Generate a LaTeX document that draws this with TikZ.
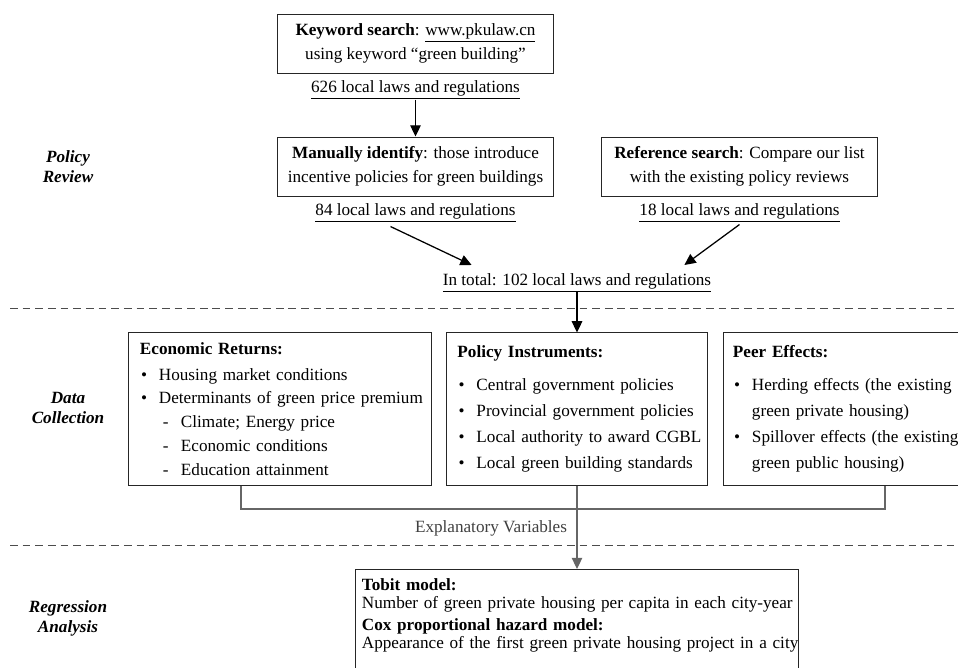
\documentclass[tikz,border=0pt]{standalone}
\usepackage{fontspec}
\setmainfont{Liberation Serif}
\usetikzlibrary{positioning}
\usetikzlibrary{calc}
\usetikzlibrary{arrows.meta}

\newcommand{\itm}[1]{\mbox{\makebox[0.475cm][l]{\hspace{0.03cm}\textbullet}#1}}
\newcommand{\subitm}[1]{\mbox{\hspace*{0.575cm}\makebox[0.45cm][l]{-}#1}}
\newcommand{\cont}[1]{\mbox{\hspace*{0.475cm}#1}}

\tikzset{
  box/.style={draw=black!85, line width=0.7pt},
  srcbox/.style={box, minimum width=6.875cm, minimum height=1.475cm, align=center},
  count/.style={inner sep=0pt},
  databox/.style={box, align=left, minimum height=3.8cm, inner xsep=0.275cm},
  phase/.style={font=\fontsize{12.2}{14.2}\selectfont\bfseries\itshape, align=center},
  arr/.style={->, line width=0.9pt},
  link/.style={draw=black!60, line width=0.8pt},
  sep/.style={draw=black!70, line width=0.6pt, dash pattern=on 5.5pt off 3.5pt}
}

\begin{document}
\begin{tikzpicture}[x=0.025cm, y=-0.025cm, >={Triangle[length=8pt,width=7.5pt]},
    font=\fontsize{12.2}{17}\selectfont]
    \useasboundingbox (0,0) rectangle (958,667);

    % stage labels
    \node[phase] (review)     at (68,167) {Policy\\Review};
    \node[phase] (collection) at (68,408) {Data\\Collection};
    \node[phase] (regression) at (68,618) {Regression\\Analysis};

    % policy review
    \node[srcbox] (kw) at (415.5,43.5)  {\textbf{Keyword search}: \underline{www.pkulaw.cn}\\using keyword ``green building''};
    \node[count, below=5pt of kw] (kwcount) {\underline{626 local laws and regulations}};
    \node[srcbox] (mi) at (415.5,166.5) {\textbf{Manually identify}: those introduce\\incentive policies for green buildings};
    \node[count, below=5pt of mi] (micount) {\underline{84 local laws and regulations}};
    \node[srcbox] (rs) at (739.5,166.5) {\textbf{Reference search}: Compare our list\\with the existing policy reviews};
    \node[count, below=5pt of rs] (rscount) {\underline{18 local laws and regulations}};
    \node[count, anchor=north] (total) at (577,273) {\underline{In total: 102 local laws and regulations}};

    \draw[arr] (kwcount) -- (mi);
    \draw[arr] ($(micount.south)+(-0.625cm,-0.1cm)$) -- ($(total.north west)+(0.725cm,0.2cm)$);
    \draw[arr] ($(rscount.south)+(0,-0.05cm)$) -- ($(total.north east)+(-0.675cm,0.2cm)$);

    \draw[sep] (10,308) -- (958,308);

    % data collection
    \node[databox, text width=7.0cm] (econ) at (280,409) {\textbf{Economic Returns:}\\[1.4pt]
      \itm{Housing market conditions}\\
      \itm{Determinants of green price premium}\\
      \subitm{Climate; Energy price}\\
      \subitm{Economic conditions}\\
      \subitm{Education attainment}};
    \node[databox, text width=5.975cm, font=\fontsize{12.2}{18.4}\selectfont] (pol) at (577,409) {\textbf{Policy Instruments:}\\[5pt]
      \itm{Central government policies}\\
      \itm{Provincial government policies}\\
      \itm{Local authority to award CGBL}\\
      \itm{Local green building standards}};
    \node[databox, text width=7.6cm, inner xsep=0.225cm, font=\fontsize{12.2}{18.4}\selectfont] (peer) at (885,409) {\textbf{Peer Effects:}\\[5pt]
      \itm{Herding effects (the existing}\\
      \cont{green private housing)}\\
      \itm{Spillover effects (the existing}\\
      \cont{green public housing)}};

    \draw[arr] (total) -- (pol);

    \coordinate (bus) at (577,509);
    \draw[link] ($(econ.south)+(-0.975cm,0)$) |- (bus -| peer.south) -- (peer.south);
    \node[text=black!75] (expl) at (491,528) {Explanatory Variables};

    \draw[sep] (10,545) -- (958,545);

    % regression analysis
    \node[align=left, anchor=north, text width=10.75cm, inner xsep=0.15cm, inner ysep=0.225cm,
      font=\fontsize{12.2}{12.8}\selectfont] (tobit) at (577,569) {\textbf{Tobit model:}\\
      \mbox{Number of green private housing per capita in each city-year}\\[2.8pt]
      \textbf{Cox proportional hazard model:}\\
      \mbox{Appearance of the first green private housing project in a city}};
    \draw[box] (tobit.north west) rectangle ($(tobit.south east)+(0,-1cm)$);

    \draw[link, ->] (pol) -- (tobit);
\end{tikzpicture}
\end{document}
